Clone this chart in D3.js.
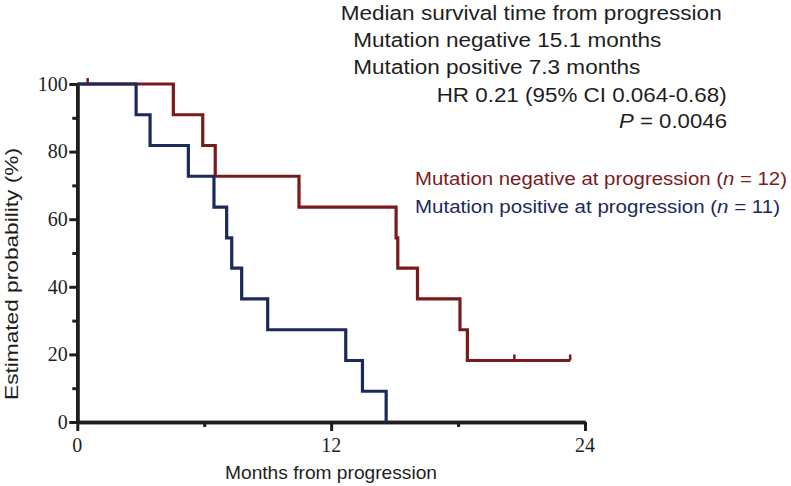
<!DOCTYPE html>
<html>
<head>
<meta charset="utf-8">
<script src="https://cdn.jsdelivr.net/npm/d3@7"></script>
<style>
  html, body { margin: 0; padding: 0; background: #fff; }
  svg { display: block; }
</style>
</head>
<body>
<svg id="chart" width="791" height="486"></svg>
<script>
// ---- data ----
const xTicks = [0, 12, 24];
const xMinorTicks = [6, 18];
const yTicks = [0, 20, 40, 60, 80, 100];
const yMinorTicks = [10, 30, 50, 70, 90];

const negTimes = [0, 4.54, 5.93, 6.52, 10.48, 15.07, 15.15, 16.08, 18.09, 18.44, 23.30];
const negSurv  = [100, 90.9, 81.8, 72.7, 63.6, 54.5, 45.5, 36.4, 27.3, 18.2, 18.2];
const negCensorTimes = [0.49, 20.66, 23.30];

const posTimes = [0, 2.78, 3.44, 5.25, 6.46, 7.06, 7.30, 7.77, 9.00, 12.69, 13.48, 14.60];
const posSurv  = [100, 90.9, 81.8, 72.7, 63.6, 54.5, 45.5, 36.4, 27.3, 18.2, 9.1, 0];

const statLines = [
  "Median survival time from progression",
  "Mutation negative 15.1 months",
  "Mutation positive 7.3 months",
  "HR 0.21 (95% CI 0.064-0.68)"
];
const pLabel = ["P", " = 0.0046"];
const legendNeg = ["Mutation negative at progression (", "n", " = 12)"];
const legendPos = ["Mutation positive at progression (", "n", " = 11)"];

const RED = "#7b1a1c";
const BLUE = "#1b2a5c";
const INK = "#1e1e1e";
const SANS = "Liberation Sans, Arial, sans-serif";
const SERIF = "Liberation Serif, Times New Roman, serif";

const svg = d3.select("#chart");
const x = d3.scaleLinear().domain([0, 24]).range([77.3, 585]);
const y = d3.scaleLinear().domain([0, 100]).range([422, 84]);

function styleAxis(g) {
  g.select(".domain").attr("stroke", INK).attr("stroke-width", 3.5);
  g.selectAll(".tick line").attr("stroke", INK).attr("stroke-width", 3);
  g.selectAll(".tick text").remove();
}

// y axis: minor + major ticks (labels drawn separately)
svg.append("g").attr("transform", `translate(${x(0)},0)`)
  .call(d3.axisLeft(y).tickValues(yMinorTicks).tickSize(5).tickSizeOuter(0))
  .call(styleAxis);
svg.append("g").attr("transform", `translate(${x(0)},0)`)
  .call(d3.axisLeft(y).tickValues(yTicks).tickSize(8).tickSizeOuter(0))
  .call(styleAxis);
// x axis
svg.append("g").attr("transform", `translate(0,${y(0)})`)
  .call(d3.axisBottom(x).tickValues(xMinorTicks).tickSize(5).tickSizeOuter(0))
  .call(styleAxis);
svg.append("g").attr("transform", `translate(0,${y(0)})`)
  .call(d3.axisBottom(x).tickValues(xTicks).tickSize(9).tickSizeOuter(0))
  .call(styleAxis);

// tick labels (serif)
svg.append("g").selectAll("text").data(yTicks).enter().append("text")
  .attr("x", x(0) - 9.5).attr("y", d => y(d)).attr("dy", "0.34em")
  .attr("text-anchor", "end")
  .attr("font-family", SERIF).attr("font-size", 20).attr("fill", INK)
  .text(d => d3.format("d")(d));
svg.append("g").selectAll("text").data(xTicks).enter().append("text")
  .attr("x", d => x(d)).attr("y", 452)
  .attr("text-anchor", "middle")
  .attr("font-family", SERIF).attr("font-size", 20).attr("fill", INK)
  .text(d => d3.format("d")(d));

// axis titles
svg.append("text")
  .attr("x", 331).attr("y", 479)
  .attr("text-anchor", "middle")
  .attr("textLength", 212).attr("lengthAdjust", "spacingAndGlyphs")
  .attr("font-family", SANS).attr("font-size", 18.5).attr("fill", INK)
  .text("Months from progression");

svg.append("text")
  .attr("transform", "translate(18,274) rotate(-90)")
  .attr("text-anchor", "middle")
  .attr("textLength", 252).attr("lengthAdjust", "spacingAndGlyphs")
  .attr("font-family", SANS).attr("font-size", 19).attr("fill", INK)
  .text("Estimated probability (%)");

// survival curves
const stepLine = d3.line().x(d => x(d[0])).y(d => y(d[1])).curve(d3.curveStepAfter);
const negData = negTimes.map((t, i) => [t, negSurv[i]]);
const posData = posTimes.map((t, i) => [t, posSurv[i]]);

function survAt(times, surv, t) {
  let v = surv[0];
  for (let i = 0; i < times.length; i++) if (times[i] <= t) v = surv[i];
  return v;
}

svg.append("path").datum(negData).attr("d", stepLine)
  .attr("fill", "none").attr("stroke", RED).attr("stroke-width", 3.2);
svg.selectAll(".censor").data(negCensorTimes).enter().append("line")
  .attr("x1", d => x(d)).attr("x2", d => x(d))
  .attr("y1", d => y(survAt(negTimes, negSurv, d)))
  .attr("y2", d => y(survAt(negTimes, negSurv, d)) - 6)
  .attr("stroke", RED).attr("stroke-width", 2.5);

svg.append("path").datum(posData).attr("d", stepLine)
  .attr("fill", "none").attr("stroke", BLUE).attr("stroke-width", 3.2);

// statistics annotation
const statX = [340.7, 353.3, 353.3];
const statW = [381, 308, 287];
const statY = [20, 47, 74, 102, 128];
statLines.slice(0, 3).forEach((s, i) => {
  svg.append("text").attr("x", statX[i]).attr("y", statY[i])
    .attr("textLength", statW[i]).attr("lengthAdjust", "spacingAndGlyphs")
    .attr("font-family", SANS).attr("font-size", 20).attr("fill", INK).text(s);
});
svg.append("text").attr("x", 436.7).attr("y", statY[3])
  .attr("textLength", 290).attr("lengthAdjust", "spacingAndGlyphs")
  .attr("font-family", SANS).attr("font-size", 20).attr("fill", INK).text(statLines[3]);
const pt = svg.append("text").attr("x", 619).attr("y", statY[4])
  .attr("textLength", 108).attr("lengthAdjust", "spacingAndGlyphs")
  .attr("font-family", SANS).attr("font-size", 20).attr("fill", INK);
pt.append("tspan").attr("font-style", "italic").text(pLabel[0]);
pt.append("tspan").text(pLabel[1]);

// legend
function legend(parts, yy, w, color) {
  const t = svg.append("text").attr("x", 415).attr("y", yy)
    .attr("textLength", w).attr("lengthAdjust", "spacingAndGlyphs")
    .attr("font-family", SANS).attr("font-size", 17.5).attr("fill", color);
  t.append("tspan").text(parts[0]);
  t.append("tspan").attr("font-style", "italic").text(parts[1]);
  t.append("tspan").text(parts[2]);
}
legend(legendNeg, 185, 372, RED);
legend(legendPos, 213, 365, BLUE);
</script>
</body>
</html>
